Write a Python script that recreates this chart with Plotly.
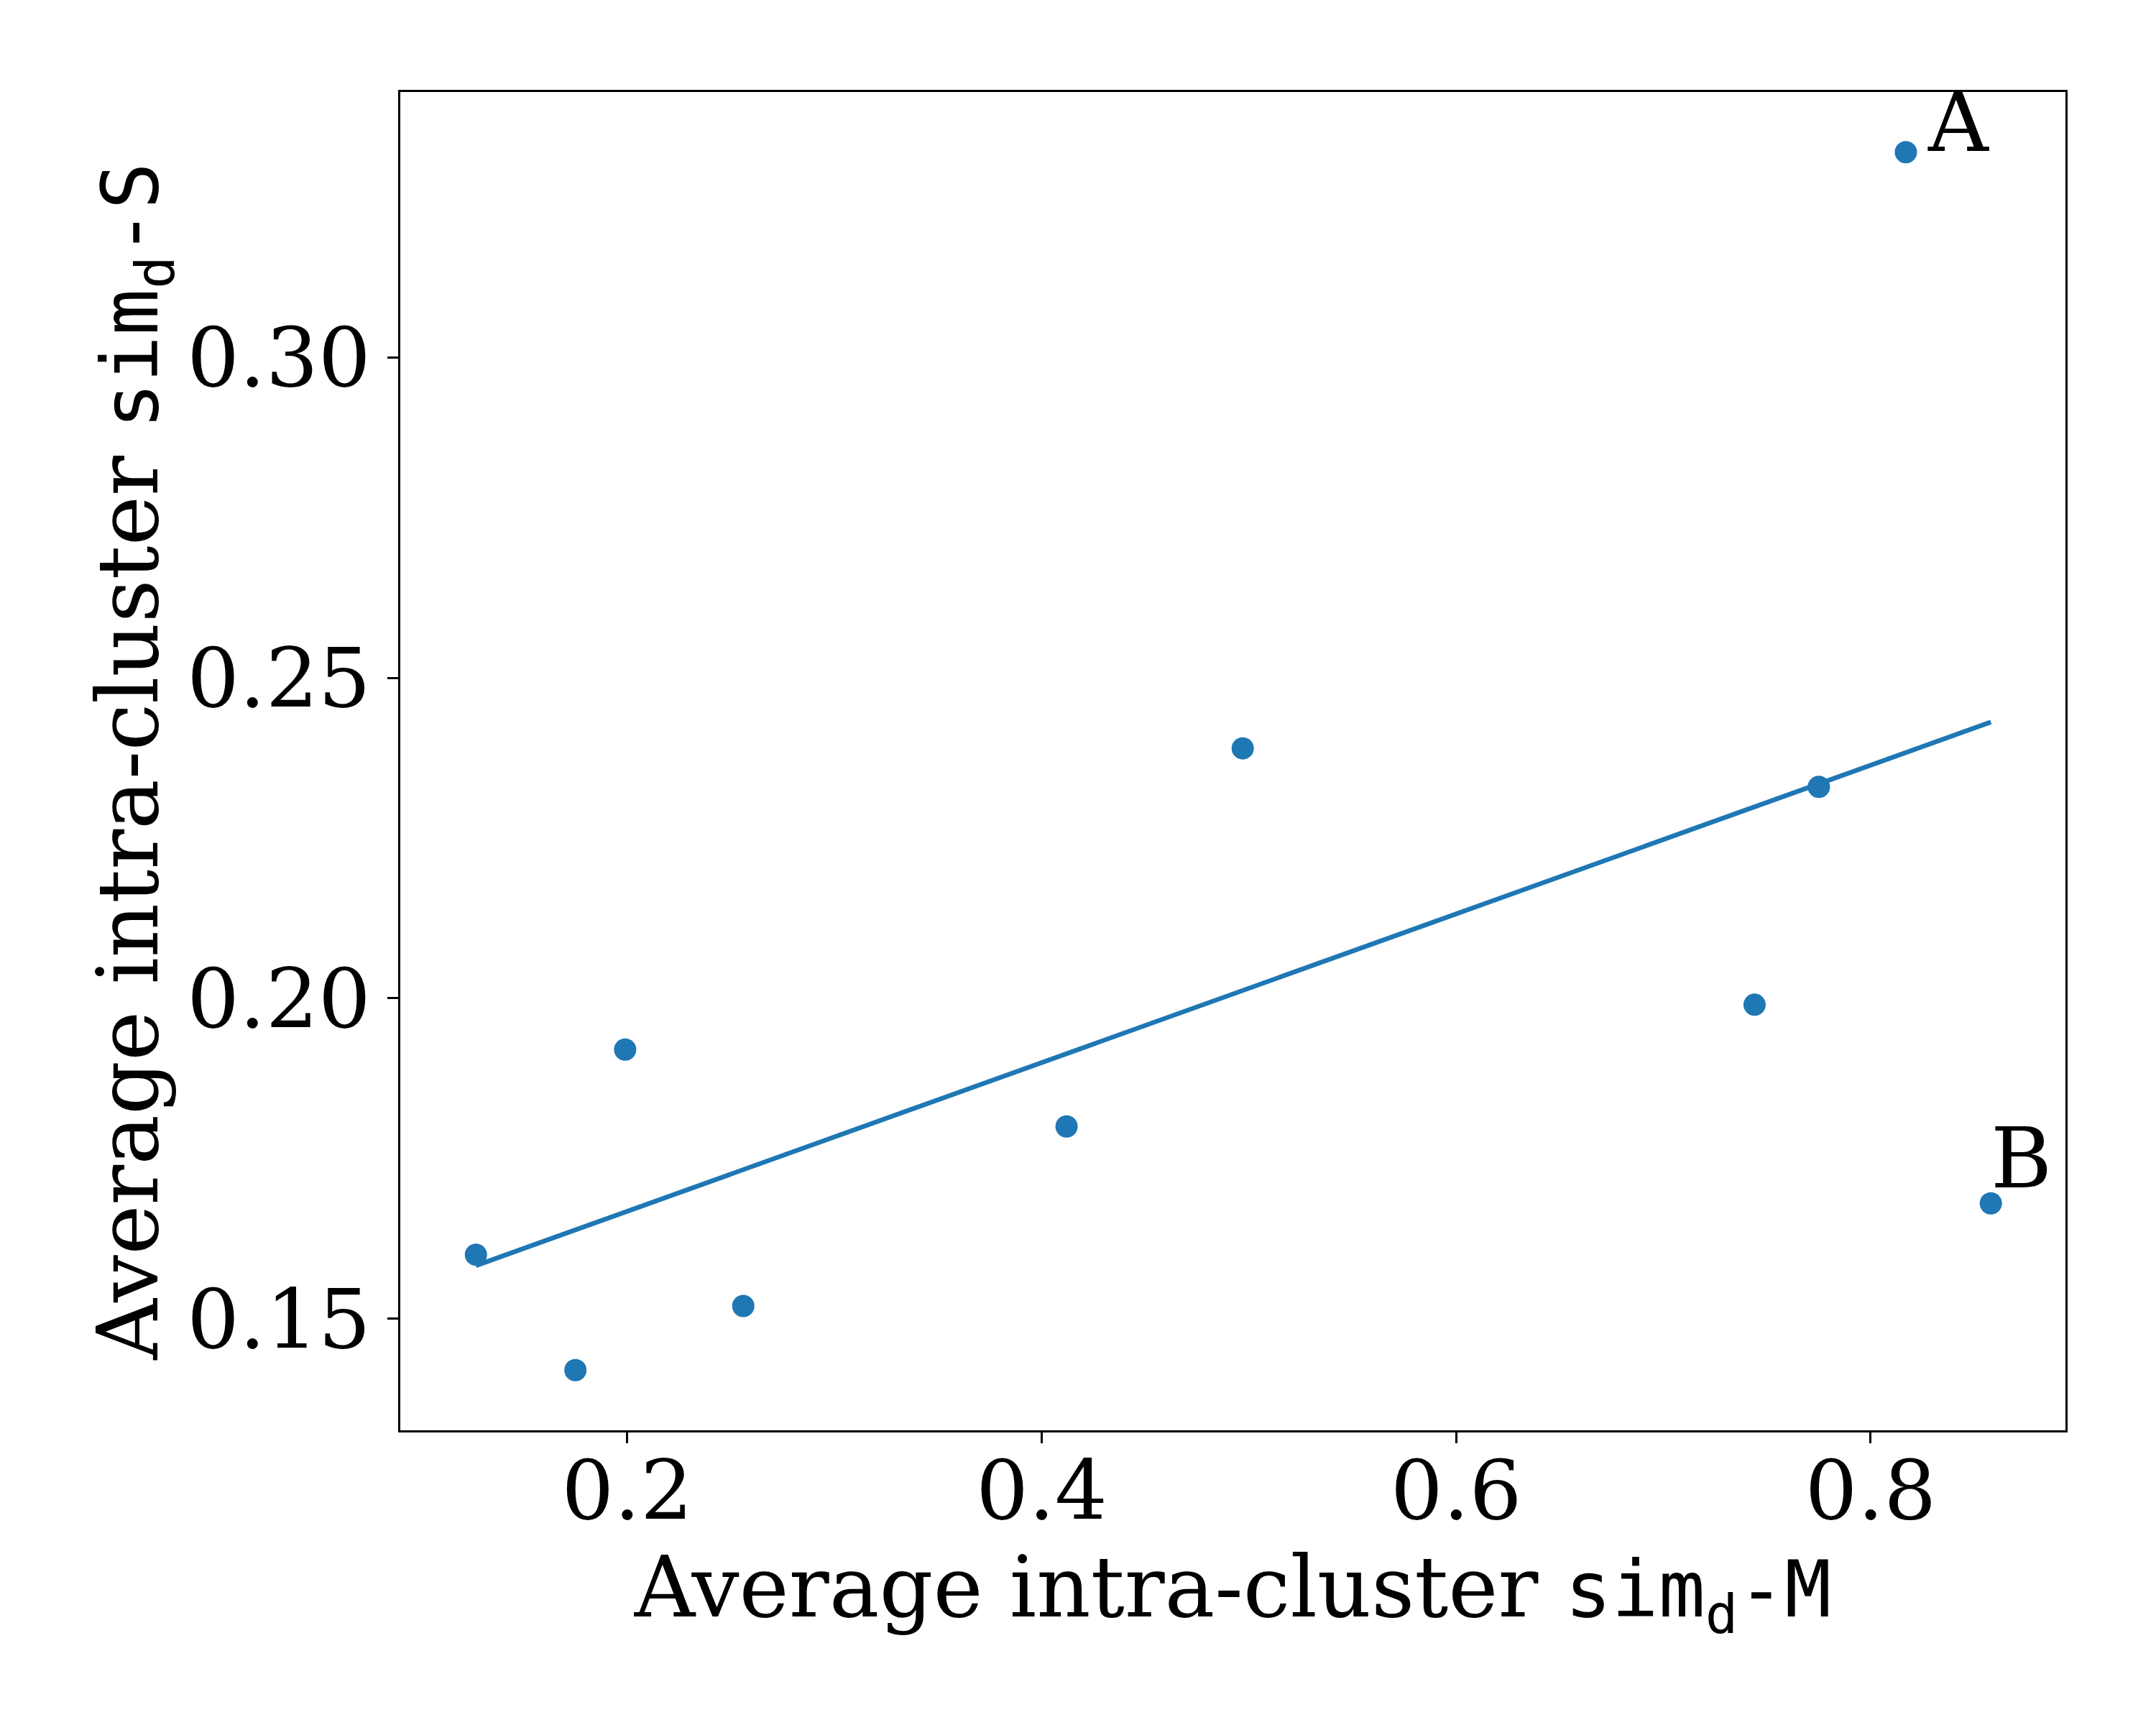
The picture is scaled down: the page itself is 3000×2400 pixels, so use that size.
import plotly.graph_objects as go

# values
sim_m = [0.127, 0.175, 0.199, 0.256, 0.412, 0.497, 0.744, 0.775, 0.817, 0.858]
sim_s = [0.160, 0.142, 0.192, 0.152, 0.180, 0.239, 0.199, 0.233, 0.332, 0.168]

# linear fit line (end points)
fit_x = [0.127, 0.858]
fit_y = [0.1583, 0.2431]

labels = ["A", "B"]
label_x = [0.817, 0.858]
label_y = [0.332, 0.168]

blue = "#1f77b4"
serif = "DejaVu Serif"
mono = "DejaVu Sans Mono"

fig = go.Figure()
fig.add_trace(go.Scatter(x=sim_m, y=sim_s, mode="markers",
                         marker=dict(color=blue, size=31, line=dict(width=0))))
fig.add_trace(go.Scatter(x=fit_x, y=fit_y, mode="lines",
                         line=dict(color=blue, width=6.5)))

shifts = [(28, -27), (-2, -7)]
for t, x, y, (dx, dy) in zip(labels, label_x, label_y, shifts):
    fig.add_annotation(x=x, y=y, text=t, showarrow=False, xanchor="left", yanchor="bottom",
                       xshift=dx, yshift=dy, font=dict(family=serif, size=116, color="black"))

def title(tail):
    return ("Average intra-cluster <span style='font-family:" + mono + "; font-size:108px'>sim"
            "<sub>d</sub>-" + tail + "</span>")

axis = dict(showgrid=False, zeroline=False, showline=True, mirror=True,
            linecolor="black", linewidth=3, ticks="outside", ticklen=15,
            tickwidth=3, tickcolor="black",
            tickfont=dict(family=serif, size=115, color="black"))

fig.update_xaxes(axis, range=[0.0905, 0.894], tickvals=[0.2, 0.4, 0.6, 0.8],
                 ticktext=["0.2", "0.4", "0.6", "0.8"], ticklabelstandoff=-33,
                 title=dict(text=title("M"), font=dict(family=serif, size=117, color="black"),
                            standoff=12))
fig.update_yaxes(axis, range=[0.1326, 0.3414], tickvals=[0.15, 0.20, 0.25, 0.30],
                 ticktext=["0.15", "0.20", "0.25", "0.30"],
                 title=dict(text=title("S"), font=dict(family=serif, size=117, color="black"),
                            standoff=0))

fig.update_layout(width=3000, height=2400, showlegend=False,
                  paper_bgcolor="white", plot_bgcolor="white",
                  margin=dict(l=549, r=134, t=120, b=418))

fig.write_html("out.html")
